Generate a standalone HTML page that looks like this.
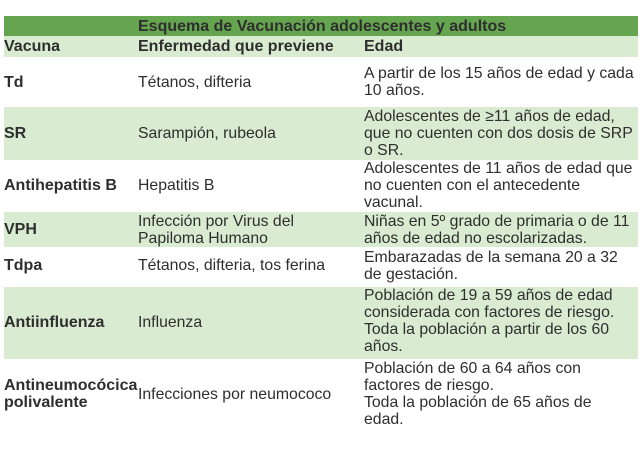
<!DOCTYPE html>
<html><head><meta charset="utf-8"><style>
body{margin:0;width:644px;height:450px;background:#fff;position:relative;font-family:"Liberation Sans",sans-serif;font-size:15.8px;color:#2e2e2e;overflow:hidden}
.bg{position:absolute;left:4px;width:634px}
.t{position:absolute;line-height:17px;white-space:nowrap}
b{font-weight:bold;font-size:16px}
</style></head><body>
<div class="bg" style="top:16px;height:20px;background:#66a550"></div>
<div class="bg" style="top:36px;height:21px;background:#d9ebd1"></div>
<div class="bg" style="top:107px;height:53px;background:#d9ebd1"></div>
<div class="bg" style="top:212px;height:35px;background:#d9ebd1"></div>
<div class="bg" style="top:287px;height:72px;background:#d9ebd1"></div>

<div class="t" style="left:138px;top:18px"><b>Esquema de Vacunación adolescentes y adultos</b></div>
<div class="t" style="left:4px;top:38px"><b>Vacuna</b></div>
<div class="t" style="left:138px;top:38px"><b>Enfermedad que previene</b></div>
<div class="t" style="left:364px;top:38px"><b>Edad</b></div>

<div class="t" style="left:4px;top:74px"><b>Td</b></div>
<div class="t" style="left:138px;top:74px">Tétanos, difteria</div>
<div class="t" style="left:364px;top:65px">A partir de los 15 años de edad y cada<br>10 años.</div>

<div class="t" style="left:4px;top:125px"><b>SR</b></div>
<div class="t" style="left:138px;top:125px">Sarampión, rubeola</div>
<div class="t" style="left:364px;top:108px">Adolescentes de ≥11 años de edad,<br>que no cuenten con dos dosis de SRP<br>o SR.</div>

<div class="t" style="left:4px;top:177px"><b>Antihepatitis B</b></div>
<div class="t" style="left:138px;top:177px">Hepatitis B</div>
<div class="t" style="left:364px;top:160px">Adolescentes de 11 años de edad que<br>no cuenten con el antecedente<br>vacunal.</div>

<div class="t" style="left:4px;top:221px"><b>VPH</b></div>
<div class="t" style="left:138px;top:213px">Infección por Virus del<br>Papiloma Humano</div>
<div class="t" style="left:364px;top:213px">Niñas en 5º grado de primaria o de 11<br>años de edad no escolarizadas.</div>

<div class="t" style="left:4px;top:257px"><b>Tdpa</b></div>
<div class="t" style="left:138px;top:257px">Tétanos, difteria, tos ferina</div>
<div class="t" style="left:364px;top:249px">Embarazadas de la semana 20 a 32<br>de gestación.</div>

<div class="t" style="left:4px;top:314px"><b>Antiinfluenza</b></div>
<div class="t" style="left:138px;top:314px">Influenza</div>
<div class="t" style="left:364px;top:287px">Población de 19 a 59 años de edad<br>considerada con factores de riesgo.<br>Toda la población a partir de los 60<br>años.</div>

<div class="t" style="left:4px;top:377px"><b>Antineumocócica<br>polivalente</b></div>
<div class="t" style="left:138px;top:386px">Infecciones por neumococo</div>
<div class="t" style="left:364px;top:360px">Población de 60 a 64 años con<br>factores de riesgo.<br>Toda la población de 65 años de<br>edad.</div>
</body></html>
